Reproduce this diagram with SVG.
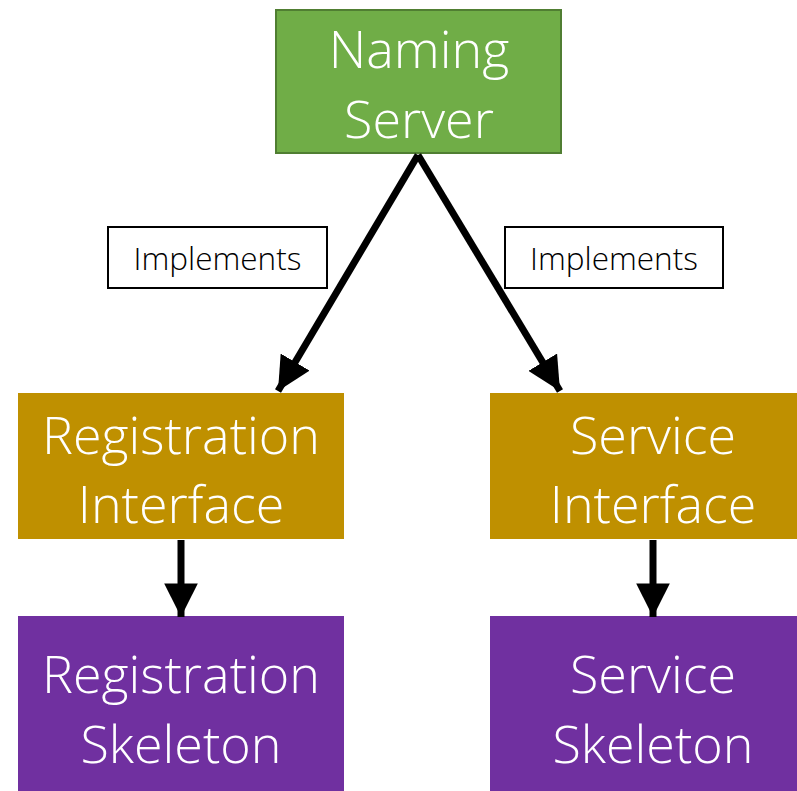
<svg xmlns="http://www.w3.org/2000/svg" width="797" height="791" viewBox="0 0 797 791">
<style>
.big{font-family:"Open Sans","Liberation Sans",sans-serif;font-weight:300;font-size:52px;fill:#fff;text-anchor:middle}
.lbl{font-family:"Open Sans","Liberation Sans",sans-serif;font-weight:300;font-size:31.5px;fill:#000;text-anchor:middle}
.conn{stroke:#000;stroke-width:7;fill:none}
</style>
<defs>
<marker id="ah" viewBox="0 0 10 10" refX="10" refY="5" markerWidth="4.8" markerHeight="4.8" markerUnits="strokeWidth" orient="auto">
<path d="M0,0 L10,5 L0,10 z" fill="#000"/>
</marker>
</defs>
<rect width="797" height="791" fill="#fff"/>
<g id="naming-server">
<rect x="276" y="10" width="285" height="143" fill="#70AD47" stroke="#507E32" stroke-width="2"/>
<text class="big" x="419" y="68">Naming</text>
<text class="big" x="419" y="138">Server</text>
</g>
<g id="registration-interface">
<rect x="18" y="393" width="326" height="146" fill="#BF9000"/>
<text class="big" x="181" y="454">Registration</text>
<text class="big" x="181" y="523">Interface</text>
</g>
<g id="service-interface">
<rect x="490" y="393" width="307" height="146" fill="#BF9000"/>
<text class="big" x="653" y="454">Service</text>
<text class="big" x="653" y="523">Interface</text>
</g>
<g id="registration-skeleton">
<rect x="18" y="616" width="326" height="175" fill="#7030A0"/>
<text class="big" x="181" y="693">Registration</text>
<text class="big" x="181" y="763">Skeleton</text>
</g>
<g id="service-skeleton">
<rect x="490" y="616" width="307" height="175" fill="#7030A0"/>
<text class="big" x="653" y="693">Service</text>
<text class="big" x="653" y="763">Skeleton</text>
</g>
<g id="label-left">
<rect x="108" y="227" width="219" height="61" fill="#fff" stroke="#000" stroke-width="2"/>
<text class="lbl" x="217.5" y="270">Implements</text>
</g>
<g id="label-right">
<rect x="505" y="227" width="218" height="61" fill="#fff" stroke="#000" stroke-width="2"/>
<text class="lbl" x="614" y="270">Implements</text>
</g>
<g id="connectors">
<line class="conn" x1="418" y1="155" x2="278" y2="391" marker-end="url(#ah)"/>
<line class="conn" x1="418" y1="155" x2="560" y2="391" marker-end="url(#ah)"/>
<line class="conn" x1="181" y1="540" x2="181" y2="617" marker-end="url(#ah)"/>
<line class="conn" x1="653" y1="540" x2="653" y2="617" marker-end="url(#ah)"/>
</g>
</svg>
